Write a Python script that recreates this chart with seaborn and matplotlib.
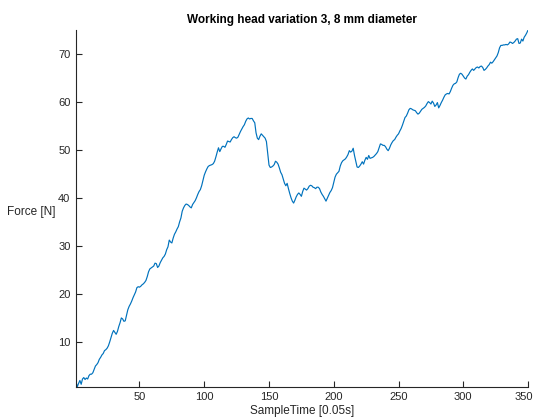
import matplotlib
matplotlib.use("Agg")
import matplotlib.pyplot as plt
import matplotlib.transforms as mtransforms
import numpy as np
import pandas as pd
import seaborn as sns

# Force readings, one per sample (sample index 1..350)
force = [
    1.7, 0.7, 1.4, 2.0, 1.2, 2.3, 2.6, 2.2, 2.5, 2.3,
    3.0, 3.3, 3.3, 3.6, 4.3, 5.0, 5.3, 5.7, 6.4, 6.8,
    7.3, 7.6, 8.2, 8.4, 8.7, 9.2, 10.0, 10.9, 11.8, 12.4,
    12.0, 11.6, 12.2, 13.2, 14.0, 15.0, 14.8, 14.3, 14.4, 15.6,
    16.7, 17.4, 17.9, 18.5, 19.2, 19.8, 20.4, 21.3, 21.5, 21.4,
    21.6, 21.9, 22.1, 22.4, 22.8, 23.6, 24.6, 25.2, 25.4, 25.6,
    25.8, 26.4, 26.3, 25.5, 25.8, 26.5, 27.0, 27.5, 27.8, 28.3,
    29.2, 29.8, 31.2, 30.8, 30.6, 31.6, 32.4, 32.9, 33.5, 34.0,
    35.0, 35.8, 37.2, 37.9, 38.4, 38.7, 38.6, 38.4, 38.1, 37.9,
    38.6, 39.0, 39.4, 40.0, 40.7, 41.3, 41.7, 42.5, 43.6, 44.7,
    45.4, 46.0, 46.5, 46.7, 46.8, 46.9, 47.1, 47.6, 48.5, 49.5,
    50.4, 49.6, 50.2, 50.7, 50.7, 50.5, 51.1, 51.8, 51.7, 51.6,
    52.1, 52.5, 52.7, 52.5, 52.4, 52.6, 53.2, 53.8, 54.3, 54.8,
    55.2, 55.9, 56.4, 56.6, 56.4, 56.5, 56.5, 56.0, 55.6, 53.5,
    52.4, 52.1, 52.8, 53.3, 53.0, 52.7, 52.4, 51.7, 49.2, 46.8,
    46.3, 46.4, 46.6, 46.9, 47.6, 47.4, 47.0, 46.2, 45.3, 44.8,
    43.9, 43.0, 42.5, 43.0, 41.9, 40.9, 40.0, 39.3, 38.9, 39.5,
    40.2, 40.7, 41.0, 40.7, 40.3, 41.3, 42.0, 41.8, 41.6, 41.9,
    42.4, 42.6, 42.5, 42.2, 42.1, 41.9, 42.2, 42.2, 41.9, 41.2,
    40.7, 40.3, 39.8, 39.3, 39.9, 40.5, 41.1, 41.5, 42.1, 43.2,
    44.3, 44.9, 45.2, 45.5, 46.6, 47.3, 47.7, 47.9, 48.1, 48.5,
    49.0, 49.8, 49.5, 49.7, 50.3, 48.8, 47.6, 46.4, 46.3, 46.6,
    47.0, 47.5, 47.0, 47.8, 48.4, 48.0, 48.8, 48.2, 48.3, 48.4,
    48.6, 48.9, 49.2, 49.6, 50.4, 51.2, 51.1, 50.9, 50.9, 50.6,
    50.1, 49.8, 50.3, 51.0, 51.5, 51.9, 52.1, 52.6, 53.0, 53.3,
    53.9, 54.4, 55.1, 55.9, 56.7, 57.0, 57.6, 58.3, 58.6, 58.5,
    58.3, 58.2, 58.1, 57.7, 57.4, 57.6, 58.0, 58.4, 58.6, 58.8,
    59.1, 59.6, 60.0, 59.8, 59.5, 60.1, 59.7, 59.0, 59.3, 59.8,
    58.7, 59.2, 59.8, 60.3, 60.9, 61.4, 61.6, 61.7, 61.6, 62.1,
    62.8, 63.4, 63.7, 63.8, 64.1, 65.0, 65.7, 65.9, 65.7, 65.3,
    64.9, 64.7, 65.3, 65.6, 66.1, 66.5, 66.8, 66.5, 66.8, 67.1,
    67.2, 67.0, 67.3, 67.4, 67.1, 66.5, 66.7, 67.0, 67.4, 67.7,
    68.2, 68.0, 68.3, 68.7, 69.1, 69.5, 70.2, 71.2, 71.7, 71.7,
    71.8, 71.8, 71.9, 71.8, 72.0, 72.4, 72.3, 72.1, 72.3, 72.6,
    73.0, 73.1, 72.1, 72.2, 73.0, 72.6, 73.4, 73.8, 74.3, 74.9,
]
sample = list(range(1, len(force) + 1))
x_ticks = [50, 100, 150, 200, 250, 300, 350]
y_ticks = [10, 20, 30, 40, 50, 60, 70]

sns.set_style("white")
plt.rcParams["font.family"] = ["Liberation Sans", "DejaVu Sans"]

df = pd.DataFrame({"SampleTime": sample, "Force": force})

fig = plt.figure(figsize=(5.36, 4.19), dpi=100)
ax = fig.add_axes([0.1418, 0.0771, 0.8434, 0.8513])

sns.lineplot(data=df, x="SampleTime", y="Force", ax=ax,
             color="#0072BD", linewidth=0.85)

ax.set_xlim(sample[0], sample[-1])
ax.set_ylim(min(force), max(force))
ax.set_xticks(x_ticks)
ax.set_yticks(y_ticks)

axis_color = "#262626"
for side in ("top", "right"):
    ax.spines[side].set_visible(False)
for side in ("left", "bottom"):
    ax.spines[side].set_color(axis_color)
    ax.spines[side].set_linewidth(0.8)

ax.tick_params(axis="both", direction="in", length=4, width=0.8,
               colors=axis_color, labelsize=8, pad=4,
               left=True, bottom=True)

# keep the last x tick label inside the figure edge
fig.canvas.draw()
last = ax.get_xticklabels()[-1]
last.set_transform(last.get_transform() +
                   mtransforms.ScaledTranslation(-4 / 100, 0, fig.dpi_scale_trans))

ax.set_title("Working head variation 3, 8 mm diameter",
             fontsize=8.5, fontweight="bold", color="black", pad=5)
ax.set_xlabel("SampleTime [0.05s]", fontsize=8.5, color=axis_color, labelpad=2)
ax.set_ylabel("Force [N]", fontsize=8.5, color=axis_color,
              rotation=0, ha="right", va="center")
ax.yaxis.set_label_coords(-0.045, 0.49)

fig.savefig("out.png", dpi=100, facecolor="white")
